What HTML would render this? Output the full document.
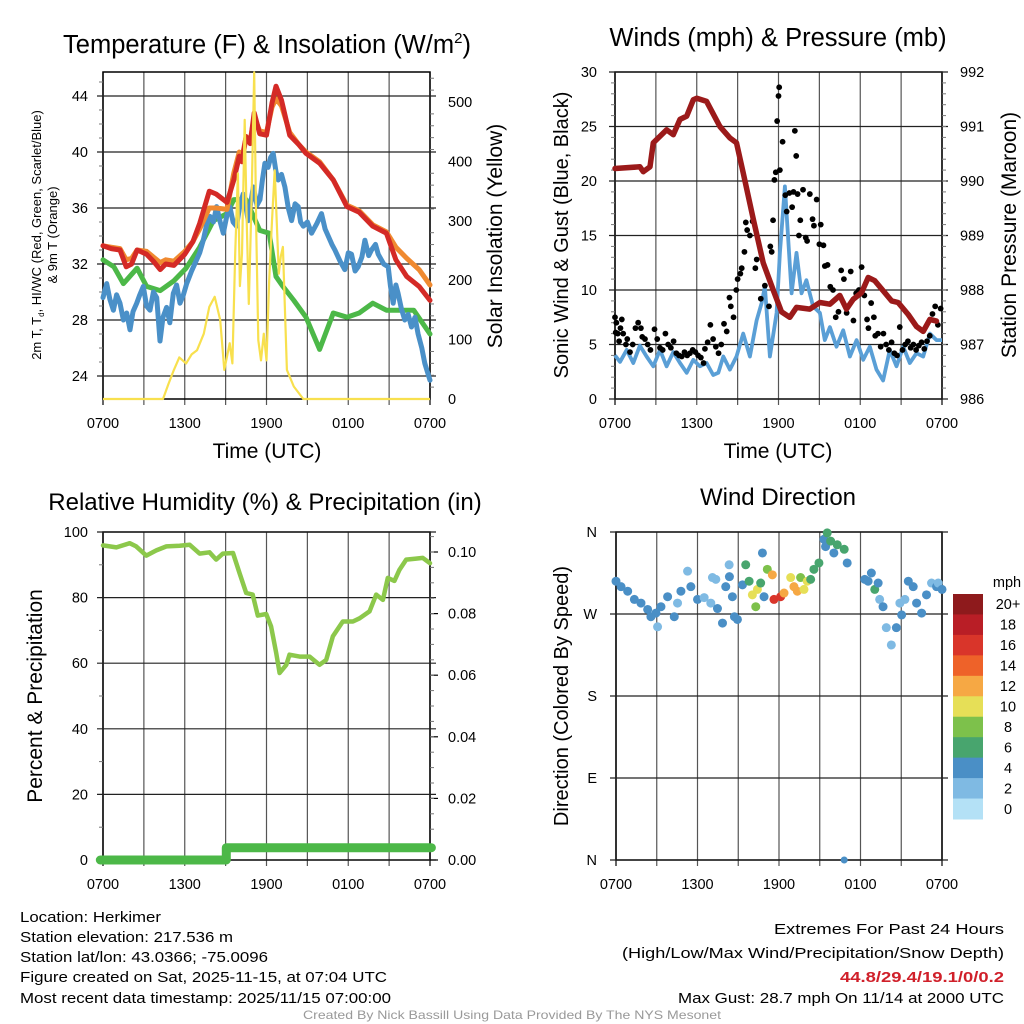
<!DOCTYPE html>
<html><head><meta charset="utf-8">
<style>
html,body{margin:0;padding:0;background:#fff;}
svg{display:block;font-family:"Liberation Sans",Arial,sans-serif;}
</style></head>
<body>
<svg id="root" width="1024" height="1024" viewBox="0 0 1024 1024" xmlns="http://www.w3.org/2000/svg">
<rect width="1024" height="1024" fill="#fff"/>
<g id="p1"></g>
<g id="p2"></g>
<g id="p3"></g>
<g id="p4"></g>
<g id="info">
<text x="20" y="922" font-size="15" textLength="141" lengthAdjust="spacingAndGlyphs">Location: Herkimer</text>
<text x="20" y="942" font-size="15" textLength="213" lengthAdjust="spacingAndGlyphs">Station elevation: 217.536 m</text>
<text x="20" y="962" font-size="15" textLength="248" lengthAdjust="spacingAndGlyphs">Station lat/lon: 43.0366; -75.0096</text>
<text x="20" y="982" font-size="15" textLength="367" lengthAdjust="spacingAndGlyphs">Figure created on Sat, 2025-11-15, at 07:04 UTC</text>
<text x="20" y="1003" font-size="15" textLength="371" lengthAdjust="spacingAndGlyphs">Most recent data timestamp: 2025/11/15 07:00:00</text>
<text x="774" y="934" font-size="15" textLength="230" lengthAdjust="spacingAndGlyphs">Extremes For Past 24 Hours</text>
<text x="622" y="958" font-size="15" textLength="382" lengthAdjust="spacingAndGlyphs">(High/Low/Max Wind/Precipitation/Snow Depth)</text>
<text x="840" y="982" font-size="15" font-weight="bold" fill="#d0202a" textLength="164" lengthAdjust="spacingAndGlyphs">44.8/29.4/19.1/0/0.2</text>
<text x="678" y="1003" font-size="15" textLength="326" lengthAdjust="spacingAndGlyphs">Max Gust: 28.7 mph On 11/14 at 2000 UTC</text>
<text x="303" y="1019" font-size="12" fill="#999" textLength="418" lengthAdjust="spacingAndGlyphs">Created By Nick Bassill Using Data Provided By The NYS Mesonet</text>
</g>
</svg>
<script>
// ---------- data ----------
const timeLabels = ["0700","1300","1900","0100","0700"];
const tempTicks = [24,28,32,36,40,44];
const solarTicks = [0,100,200,300,400,500];
const redHours = [0,0.6,1.25,1.7,2.1,2.5,3.2,3.7,4.2,4.6,5.2,6,6.6,7.1,7.8,8.3,9.1,9.6,10,10.2,10.5,10.8,11.1,11.5,12,12.4,12.7,13.1,13.7,14.4,14.9,15.9,16.9,17.9,18.8,19.8,20.8,21.5,22.3,23.2,24];
const redTemp = [33.3,33.1,33.0,31.8,32.0,33,32.7,32.2,31.6,32.0,31.9,32.7,33.6,34.9,37.2,37.0,36.4,38,39.7,39.3,41.1,40.6,42.8,41.3,41.2,43.5,44.7,43.7,41.2,40.5,39.9,39.2,38,36.1,35.7,34.7,34.2,32.3,31.1,30.4,29.4];
const orangeTemp = [33.3,33.2,33.1,32.3,32.4,33,32.9,32.5,32.1,32.3,32.2,32.9,33.6,34.5,36,36.0,35.9,38.5,40,39.6,41.1,40.8,42.5,41.5,41.4,43.2,43.8,43.3,41.4,40.5,40,39.3,38,36.2,35.8,34.8,34.3,33.2,32.4,31.6,30.5];
const greenHours = [0,0.8,1.5,2.5,3.2,4.2,5.2,6.1,7.1,8.1,9.1,9.6,10.5,11.5,12.2,12.7,13.2,14,14.9,15.9,16.9,17.9,18.8,19.8,20.8,21.8,22.8,24];
const greenTemp = [32.3,31.8,30.6,31.7,30.4,30.1,30.8,31.7,33.2,35.1,35.6,36.6,36.6,34.4,34.2,31.1,30.4,29.4,28.2,25.9,28.5,28.2,28.5,29.2,28.7,28.7,28.7,27.0];
const blueHours = [0,0.27,0.5,0.76,1.0,1.25,1.5,1.74,1.98,2.2,2.47,2.7,2.96,3.2,3.45,3.7,3.94,4.18,4.4,4.67,4.9,5.16,5.4,5.65,5.9,6.14,6.5,6.87,7.1,7.36,7.6,7.85,8.1,8.34,8.6,8.83,9.1,9.31,9.55,9.8,10.05,10.29,10.5,10.66,10.85,11.03,11.3,11.52,11.7,11.88,12.12,12.3,12.49,12.7,12.86,13.1,13.35,13.6,13.84,14.1,14.33,14.5,14.7,15.0,15.31,15.7,16.04,16.3,16.53,16.8,17.02,17.4,17.75,18.0,18.24,18.5,18.73,19.0,19.22,19.5,19.71,20.0,20.2,20.6,20.93,21.1,21.3,21.5,21.66,21.9,22.15,22.4,22.64,22.9,23.13,23.4,23.62,24];
const blueTemp = [29.6,30.6,29.5,28.7,29.8,29.2,28.0,28.5,27.3,28.6,29.2,29.8,30.4,29.0,28.7,30.0,29.6,26.5,28.2,28.9,27.8,29.9,30.5,29.2,29.8,30.6,31.5,32.3,32.8,33.7,34.8,35.4,35.0,36.1,35.0,34.2,35.5,36.1,35.0,34.7,36.2,37,36.0,35.1,36.4,37.5,36.2,36.6,38.0,39.2,38.9,39.6,39.9,38.6,38,38.4,37.5,36.0,35.1,36.3,36.1,35.0,34.7,35.0,34.2,34.9,35.6,34.5,34,33.4,33,32.2,31.6,32.8,32.7,31.5,31.8,32.5,33.7,32.6,33,33.4,32.7,32.0,31.8,30.4,29.2,30.5,29.9,28.8,28,28.4,27.5,28.2,27,26.0,24.9,23.7];
const solarHours = [0,4.4,4.8,5.2,5.6,6.1,6.5,6.9,7.4,7.8,8.2,8.6,8.9,9.3,9.5,9.7,9.9,10.05,10.2,10.4,10.55,10.7,10.9,11.1,11.25,11.4,11.6,11.8,12,12.2,12.4,12.6,12.75,12.9,13.05,13.2,13.5,14,14.7,24];
const solarVals = [0,0,25,49,70,60,75,82,110,155,172,133,49,94,60,245,380,190,245,470,300,160,330,550,280,99,65,110,65,200,300,385,300,211,240,256,49,21,0,0];

const windTicks = [0,5,10,15,20,25,30];
const presTicks = [986,987,988,989,990,991,992];
const presHours = [0,1.83,2.08,2.57,2.81,3.79,4.28,4.77,5.26,5.75,6,6.72,7.7,8.43,8.92,9.41,10.15,10.88,11.61,12.22,12.83,13.32,14.3,15.04,15.77,16.5,16.99,17.48,18.09,18.58,19.07,20.3,20.78,21.52,22.13,22.62,23.11,23.6];
const presVals = [990.23,990.26,990.17,990.26,990.7,990.94,990.85,991.13,991.19,991.49,991.52,991.46,991.0,990.79,990.7,990.15,989.3,988.5,988.0,987.6,987.5,987.68,987.65,987.77,987.74,987.9,987.65,987.83,987.95,988.23,988.17,987.8,987.77,987.55,987.33,987.24,987.46,987.43];
const windHours = [0,0.37,0.86,1.34,1.83,2.32,2.81,3.3,3.79,4.28,4.77,5.26,5.75,6.23,6.72,7.21,7.58,7.95,8.43,8.92,9.41,9.9,10.39,10.76,11.0,11.37,11.86,12.1,12.47,12.96,13.32,13.69,14.05,14.54,15.04,15.4,15.77,16.26,16.75,17.24,17.73,18.22,18.7,19.19,19.68,20.17,20.66,21.15,21.64,22.13,22.62,23.11,23.6,24];
const windVals = [4.0,3.4,4.5,3.3,4.9,3.9,3.0,4.5,3.0,4.3,3.3,2.4,3.6,3.0,3.3,2.2,2.4,3.9,2.7,3.9,6.0,3.9,7.2,8.8,10.3,3.9,7.9,13.4,19.5,9.7,13.4,9.7,10.9,8.5,7.9,5.4,6.6,4.8,6.3,3.9,5.4,3.6,4.8,2.7,1.7,4.5,3.0,4.8,3.3,4.2,3.9,6.0,5.4,5.4];
const gustHours = [0,0.05,0.1,0.2,0.3,0.4,0.5,0.6,0.8,0.9,1.1,1.3,1.5,1.7,1.9,2.0,2.2,2.4,2.6,2.9,3.1,3.3,3.5,3.7,3.9,4.1,4.3,4.5,4.7,4.9,5.1,5.3,5.5,5.7,5.9,6.1,6.3,6.5,6.6,6.8,7.0,7.2,7.4,7.6,7.8,8.0,8.2,8.4,8.5,8.7,8.9,9.0,9.2,9.3,9.5,9.6,9.7,9.9,10.1,10.3,10.4,10.7,11.0,11.3,11.4,11.5,11.6,11.7,11.8,11.9,12.0,12.05,12.1,12.3,12.5,12.6,12.8,13.0,13.1,13.2,13.3,13.4,13.5,13.6,13.8,14.0,14.1,14.3,14.5,14.6,14.8,15.0,15.1,15.3,15.4,15.6,15.8,16.0,16.2,16.4,16.6,16.8,17.0,17.3,17.5,17.7,17.9,18.1,18.3,18.5,18.6,18.8,19.0,19.1,19.3,19.5,19.7,19.9,20.1,20.3,20.5,20.7,20.9,21.1,21.3,21.5,21.7,21.9,22.1,22.3,22.5,22.7,22.9,23.1,23.3,23.5,23.7,23.9];
const gustVals = [7.5,6.1,7.0,6.0,5.3,6.5,7.3,6.0,5.0,5.5,4.3,5.0,6.5,7.0,6.5,5.7,5.5,5.0,4.5,6.4,5.5,4.7,4.5,6.0,5.0,4.7,5.3,4.2,4.0,3.9,4.3,4.0,4.2,4.5,4.3,4.0,3.8,3.3,4.6,5.2,6.8,5.5,4.8,4.2,5.0,6.9,6.2,9.3,8.5,7.5,10.0,11.0,11.5,12.0,13.5,16.2,15.5,15.0,16.3,12.0,12.8,9.2,10.4,8.5,14.0,13.5,16.4,20.1,20.8,25.5,27.8,28.6,21.0,23.6,18.7,17.2,18.9,17.6,19.0,24.6,22.3,18.8,15.0,16.4,19.2,14.8,14.5,18.8,16.5,15.9,18.3,14.2,16.0,14.1,12.2,12.3,10.3,10.0,7.5,8.0,11.8,11.0,7.9,11.7,7.2,9.7,10.0,12.1,9.5,7.3,6.5,8.8,7.5,5.8,6.0,4.8,6.0,5.0,4.5,5.2,4.2,4.0,6.6,4.5,5.0,5.3,4.7,5.0,4.5,4.9,5.2,4.6,5.3,5.8,7.8,8.5,6.8,8.3];

const rhTicks = [0,20,40,60,80,100];
const precipTicks = ["0.00","0.02","0.04","0.06","0.08","0.10"];
const rhHours = [0,0.98,1.96,2.44,3.18,3.91,4.65,5.62,6.36,7.09,7.82,8.31,8.8,9.54,10.02,10.51,10.99,11.36,11.98,12.34,12.71,12.96,13.45,13.69,14.43,15.16,15.89,16.38,16.87,17.6,18.34,18.83,19.56,20.05,20.54,20.9,21.39,21.76,22.25,22.98,23.47,24];
const rhVals = [95.9,95.3,96.6,95.6,92.8,94.4,95.6,95.8,96.1,93.4,93.8,91.6,93.4,93.6,87.5,81.4,80.9,74.5,75,71.2,63.1,57.0,59.5,62.6,62,62,59.5,61,68.2,72.7,72.7,73.7,75.8,80.9,79.3,86,85.1,88.5,91.6,91.9,92.1,90.5];
const precipHours = [-0.2,9.05,9.05,24.1];
const precipVals = [0,0,0.004,0.004];

const dirLabels = ["N","E","S","W","N"];
const dirHours = [0,0.37,0.86,1.35,1.84,2.33,2.57,2.94,3.06,3.31,3.8,4.29,4.53,4.78,5.27,5.51,6.0,6.49,6.98,7.1,7.35,7.47,7.84,8.08,8.33,8.35,8.57,8.72,8.94,9.31,9.55,9.8,10.04,10.29,10.41,10.65,10.78,10.9,11.14,11.51,11.63,12.12,12.37,12.86,13.1,13.35,13.59,13.84,14.08,14.33,14.57,14.94,15.31,15.43,15.55,15.8,16.04,16.29,16.8,17.02,18.31,18.56,18.8,19.05,19.3,19.41,19.66,19.9,20.27,20.64,20.9,21.03,21.27,21.52,21.88,22.13,22.5,22.86,23.23,23.6,23.72,24.0];
const dirVals = [306,300,295,286,282,275,267,271,256,278,289,267,282,295,317,300,286,288,282,310,308,276,260,300,324,311,289,267,264,302,324,306,291,278,297,304,337,289,319,313,286,289,293,310,300,295,310,297,306,308,319,326,352,344,359,350,337,346,341,326,308,306,315,297,304,286,278,255,236,255,282,269,286,306,300,282,271,291,304,300,304,297,310,289,293];
const dirSpeeds = [3.5,3.5,3.5,3.5,3.5,3.5,3.5,3.5,1.8,3.5,3.5,3.5,1.8,3.5,1.8,3.5,3.5,1.8,1.8,1.8,1.8,3.5,3.5,3.5,1.8,3.5,3.5,3.5,3.5,3.5,5.5,5.5,9.5,7.5,9.5,5.5,3.5,3.5,7.5,11.5,15.5,15.5,11.5,9.5,11.5,11.5,7.5,9.5,9.5,5.5,5.5,5.5,3.5,3.5,5.5,5.5,3.5,5.5,5.5,3.5,3.5,3.5,3.5,5.5,3.5,1.8,3.5,1.8,1.8,3.5,1.8,3.5,1.8,3.5,3.5,3.5,3.5,3.5,1.8,3.5,1.8,3.5,3.5,5.5,3.5];
const calmHour = 16.8;
const calmDir = 0;
const cbLabels = ["20+","18","16","14","12","10","8","6","4","2","0"];
const cbColors = ["#8e1a1c","#b91e26","#d9352a","#ee6229","#f6a844","#e6df57","#7dc14b","#48a56e","#4a8fc6","#7fbae3","#b4e1f6"];

// ---------- helpers ----------
const NS = "http://www.w3.org/2000/svg";
function mk(parent, tag, attrs, text){
  const e = document.createElementNS(NS, tag);
  for (const k in attrs) e.setAttribute(k, attrs[k]);
  if (text !== undefined) e.textContent = text;
  parent.appendChild(e);
  return e;
}
function pathD(xs, ys, fx, fy){
  let d = "";
  for (let i=0;i<xs.length;i++) d += (i?"L":"M") + fx(xs[i]).toFixed(1) + "," + fy(ys[i]).toFixed(1);
  return d;
}
function frame(g, L, R, T, B){
  for (let i=0;i<=8;i++){
    const x = L + i*(R-L)/8;
    const ln = mk(g,"line",{x1:x,x2:x,y1:T,y2:B+6,stroke: (i==0||i==8)?"#000":"#555","stroke-width":1.2});
    
    
  }
  const bx = mk(g,"rect",{x:L,y:T,width:R-L,height:B-T,fill:"none",stroke:"#000","stroke-width":1.5});
  
  
  for (let i=0;i<timeLabels.length;i++){
    const x = L + i*(R-L)/4;
    const t = mk(g,"text",{x:x,y:B+29,"font-size":14.5,"text-anchor":"middle"},timeLabels[i]);
    
    
  }
}
function hgrid(g, L, R, y){
  const ln = mk(g,"line",{x1:L-6,x2:R+6,y1:y,y2:y,stroke:"#222","stroke-width":1.2});
  
  
}
function minor(g, x, y, dir){
  const ln = mk(g,"line",{x1:x,x2:x+dir*4,y1:y,y2:y,stroke:"#777","stroke-width":1});
  
  
}

// ---------- panel 1 ----------
(function(){
  const g = document.getElementById("p1");
  const L=103,R=430,T=72,B=399;
  const xs = h => L + h*(R-L)/24;
  const yT = v => 376 - (v-24)*14;
  const yS = v => 399 - v*0.594;
  frame(g,L,R,T,B);
  tempTicks.forEach(v=>{
    hgrid(g,L,R,yT(v));
    const t = mk(g,"text",{x:88,y:yT(v)+5,"font-size":14.5,"text-anchor":"end"},String(v));
    
    
  });
  for (let v=25; v<46; v++) if ((v-24)%4) minor(g,L,yT(v),-1);
  solarTicks.forEach(v=>{
    const t = mk(g,"text",{x:448,y:yS(v)+5,"font-size":14.5},String(v));
    
    
  });
  for (let v=20; v<550; v+=20) if (v%100) minor(g,R,yS(v),1);
  const series = [
    [greenHours,greenTemp,"#4cb848",5,"dewpoint-line"],
    [blueHours,blueTemp,"#4a90c8",5,"wind-chill-line"],
    [redHours,orangeTemp,"#f08a30",5,"9m-temperature-line"],
    [redHours,redTemp,"#d42a26",5,"2m-temperature-line"]
  ];
  series.forEach(s=>{
    const p = mk(g,"path",{d:pathD(s[0],s[1],xs,yT),fill:"none",stroke:s[2],"stroke-width":s[3],"stroke-linejoin":"round","stroke-linecap":"round"});
    
    
  });
  const sp = mk(g,"path",{d:pathD(solarHours,solarVals,xs,yS),fill:"none",stroke:"#f8e04e","stroke-width":2.2,"stroke-linejoin":"round"});
  
  
  const tt = mk(g,"text",{x:267,y:53,"font-size":25.5,"text-anchor":"middle"});
  
  
  tt.innerHTML = 'Temperature (F) &amp; Insolation (W/m<tspan dy="-10" font-size="15">2</tspan><tspan dy="10">)</tspan>';
  const xl = mk(g,"text",{x:267,y:458,"font-size":21,"text-anchor":"middle"},"Time (UTC)");
  
  
  const yl = mk(g,"text",{transform:"translate(41,235) rotate(-90)","font-size":13,"text-anchor":"middle"});
  
  
  yl.innerHTML = '2m T, T<tspan font-size="8" dy="3">d</tspan><tspan dy="-3">, HI/WC (Red, Green, Scarlet/Blue)</tspan>';
  const yl2 = mk(g,"text",{transform:"translate(57,235) rotate(-90)","font-size":13,"text-anchor":"middle"},"& 9m T (Orange)");
  
  
  const yr = mk(g,"text",{transform:"translate(502,236) rotate(-90)","font-size":21,"text-anchor":"middle"},"Solar Insolation (Yellow)");
  
  
})();

// ---------- panel 2 ----------
(function(){
  const g = document.getElementById("p2");
  const L=615,R=942,T=72,B=399;
  const xs = h => L + h*(R-L)/24;
  const yW = v => 399 - v*10.9;
  const yP = v => 399 - (v-986)*54.5;
  frame(g,L,R,T,B);
  windTicks.forEach(v=>{
    hgrid(g,L,R,yW(v));
    const t = mk(g,"text",{x:597,y:yW(v)+5,"font-size":14.5,"text-anchor":"end"},String(v));
    
    
  });
  for (let v=1; v<30; v++) if (v%5) minor(g,L,yW(v),-1);
  presTicks.forEach(v=>{
    const t = mk(g,"text",{x:960,y:yP(v)+5,"font-size":14.5},String(v));
    
    
  });
  for (let v=986.2; v<992; v+=0.2) minor(g,R,yP(v),1);
  const wp = mk(g,"path",{d:pathD(windHours,windVals,xs,yW),fill:"none",stroke:"#5a9fd6","stroke-width":3.8,"stroke-linejoin":"round"});
  
  
  gustHours.forEach((h,i)=>{
    const c = mk(g,"circle",{cx:xs(h),cy:yW(gustVals[i]),r:2.9,fill:"#000"});
    
    
  });
  const pp = mk(g,"path",{d:pathD(presHours,presVals,xs,yP),fill:"none",stroke:"#9b1a1a","stroke-width":5.5,"stroke-linejoin":"round","stroke-linecap":"round"});
  
  
  const tt = mk(g,"text",{x:778,y:46,"font-size":25.5,"text-anchor":"middle"},"Winds (mph) & Pressure (mb)");
  
  
  const xl = mk(g,"text",{x:778,y:458,"font-size":21,"text-anchor":"middle"},"Time (UTC)");
  
  
  const yl = mk(g,"text",{transform:"translate(568,235) rotate(-90)","font-size":20,"text-anchor":"middle"},"Sonic Wind & Gust (Blue, Black)");
  
  
  const yr = mk(g,"text",{transform:"translate(1016,235) rotate(-90)","font-size":21,"text-anchor":"middle"},"Station Pressure (Maroon)");
  
  
})();

// ---------- panel 3 ----------
(function(){
  const g = document.getElementById("p3");
  const L=103,R=430,T=532,B=860;
  const xs = h => L + h*(R-L)/24;
  const yR = v => 860 - v*3.28;
  const yPr = v => 860 - v*3080;
  frame(g,L,R,T,B);
  rhTicks.forEach(v=>{
    hgrid(g,L,R,yR(v));
    const t = mk(g,"text",{x:88,y:yR(v)+5,"font-size":14.5,"text-anchor":"end"},String(v));
    
    
  });
  for (let v=10; v<100; v+=20) minor(g,L,yR(v),-1);
  precipTicks.forEach(s=>{
    const v = parseFloat(s);
    const ln = mk(g,"line",{x1:R,x2:R+8,y1:yPr(v),y2:yPr(v),stroke:"#000","stroke-width":1.2});
    
    
    const t = mk(g,"text",{x:448,y:yPr(v)+5,"font-size":14.5},s);
    
    
  });
  for (let v=0.005; v<0.106; v+=0.005) minor(g,R,yPr(v),1);
  const pr = mk(g,"path",{d:pathD(precipHours,precipVals,xs,yPr),fill:"none",stroke:"#4cb848","stroke-width":9,"stroke-linecap":"round","stroke-linejoin":"round"});
  
  
  const rp = mk(g,"path",{d:pathD(rhHours,rhVals,xs,yR),fill:"none",stroke:"#8cc84b","stroke-width":4.5,"stroke-linejoin":"round","stroke-linecap":"round"});
  
  
  const tt = mk(g,"text",{x:265,y:510,"font-size":24,"text-anchor":"middle"},"Relative Humidity (%) & Precipitation (in)");
  
  
  const yl = mk(g,"text",{transform:"translate(42,696) rotate(-90)","font-size":21,"text-anchor":"middle"},"Percent & Precipitation");
  
  
})();

// ---------- panel 4 ----------
(function(){
  const g = document.getElementById("p4");
  const L=616,R=942,T=532,B=860;
  const xs = h => L + h*(R-L)/24;
  const yD = v => 860 - v*(328/360);
  frame(g,L,R,T,B);
  dirLabels.forEach((s,i)=>{
    const y = yD(i*90);
    hgrid(g,L,R,y);
    const t = mk(g,"text",{x:597,y:y+5,"font-size":14.5,"text-anchor":"end"},s);
    
    
  });
  const colorOf = s => cbColors[10 - Math.min(10, Math.floor((s+1)/2))];
  dirHours.forEach((h,i)=>{
    const c = mk(g,"circle",{cx:xs(h),cy:yD(dirVals[i]),r:4.5,fill:colorOf(dirSpeeds[i])});
    
    
  });
  const cc = mk(g,"circle",{cx:xs(calmHour),cy:yD(calmDir),r:3.5,fill:cbColors[8]});
  
  
  const tt = mk(g,"text",{x:778,y:505,"font-size":24,"text-anchor":"middle"},"Wind Direction");
  
  
  const yl = mk(g,"text",{transform:"translate(568,696) rotate(-90)","font-size":20,"text-anchor":"middle"},"Direction (Colored By Speed)");
  
  
  const cb = mk(g,"g",{});
  
  
  const h = (819-594)/11;
  cbLabels.forEach((lab,i)=>{
    const r = mk(cb,"rect",{x:953,y:594+i*h,width:30,height:h+0.5,fill:cbColors[i]});
    
    
    const t = mk(cb,"text",{x:1008,y:594+i*h+h/2+5,"font-size":14.5,"text-anchor":"middle"},lab);
    
    
  });
  const u = mk(cb,"text",{x:1007,y:587,"font-size":14.5,"text-anchor":"middle"},"mph");
  
  
})();
</script>
</body></html>
